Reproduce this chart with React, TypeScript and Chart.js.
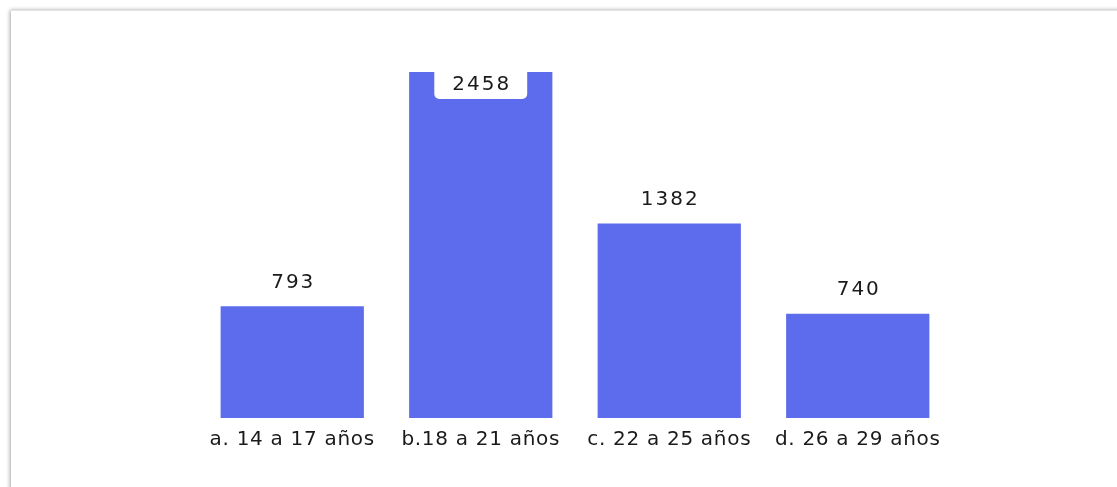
import React, { useEffect, useRef } from "react";
import { Chart, registerables } from "chart.js";

Chart.register(...registerables);

const categories: string[] = [
  "a. 14 a 17 años",
  "b.18 a 21 años",
  "c. 22 a 25 años",
  "d. 26 a 29 años",
];
const values: number[] = [793, 2458, 1382, 740];

const BAR_COLOR = "#5c6cec";
const FONT = "'DejaVu Sans', Verdana, sans-serif";

const spacingPlugin = {
  id: "spacing",
  beforeDraw(chart: any) {
    (chart.ctx as any).letterSpacing = "0.7px";
  },
};

const valueLabels = {
  id: "valueLabels",
  afterDatasetsDraw(chart: any) {
    const ctx = chart.ctx;
    const meta = chart.getDatasetMeta(0);
    const top = chart.chartArea.top;
    ctx.save();
    (ctx as any).letterSpacing = "2px";
    ctx.font = `20px ${FONT}`;
    ctx.textAlign = "center";
    ctx.textBaseline = "middle";
    meta.data.forEach((el: any, i: number) => {
      const text = String(values[i]);
      let y = el.y - 24;
      if (y - 12 < top) {
        const w = ctx.measureText(text).width + 34;
        const boxTop = top - 6;
        const boxBottom = top + 27;
        ctx.fillStyle = "#ffffff";
        ctx.beginPath();
        (ctx as any).roundRect(el.x - w / 2, boxTop, w, boxBottom - boxTop, 5);
        ctx.fill();
        y = top + 13;
      }
      ctx.fillStyle = "#1a1a1a";
      ctx.fillText(text, el.x + 1, y);
    });
    ctx.restore();
  },
};

export default function App() {
  const ref = useRef<HTMLCanvasElement | null>(null);

  useEffect(() => {
    if (!ref.current) return;
    const chart = new Chart(ref.current, {
      type: "bar",
      data: {
        labels: categories,
        datasets: [
          {
            data: values,
            backgroundColor: BAR_COLOR,
            borderWidth: 0,
            barPercentage: 0.76,
            categoryPercentage: 1,
          },
        ],
      },
      options: {
        animation: false,
        responsive: true,
        maintainAspectRatio: false,
        layout: { padding: { left: 187, right: 165, top: 61, bottom: 25 } },
        plugins: {
          legend: { display: false },
          tooltip: { enabled: false },
          title: { display: false },
        },
        scales: {
          x: {
            grid: { display: false, drawTicks: false },
            border: { display: false },
            ticks: {
              color: "#1a1a1a",
              font: { family: FONT, size: 20 },
              padding: 10,
              autoSkip: false,
              maxRotation: 0,
            },
          },
          y: {
            display: false,
            min: 0,
            max: Math.max(...values),
          },
        },
      },
      plugins: [spacingPlugin, valueLabels],
    });
    return () => chart.destroy();
  }, []);

  return (
    <div
      style={{
        position: "absolute",
        left: 11,
        top: 10,
        width: 1130,
        height: 500,
        borderTop: "1px solid #e4e4e4",
        boxShadow: "-1px 0 4px rgba(0,0,0,0.35)",
        background: "#fff",
      }}
    >
      <div style={{ position: "relative", width: 1106, height: 476 }}>
        <canvas ref={ref} />
      </div>
    </div>
  );
}
